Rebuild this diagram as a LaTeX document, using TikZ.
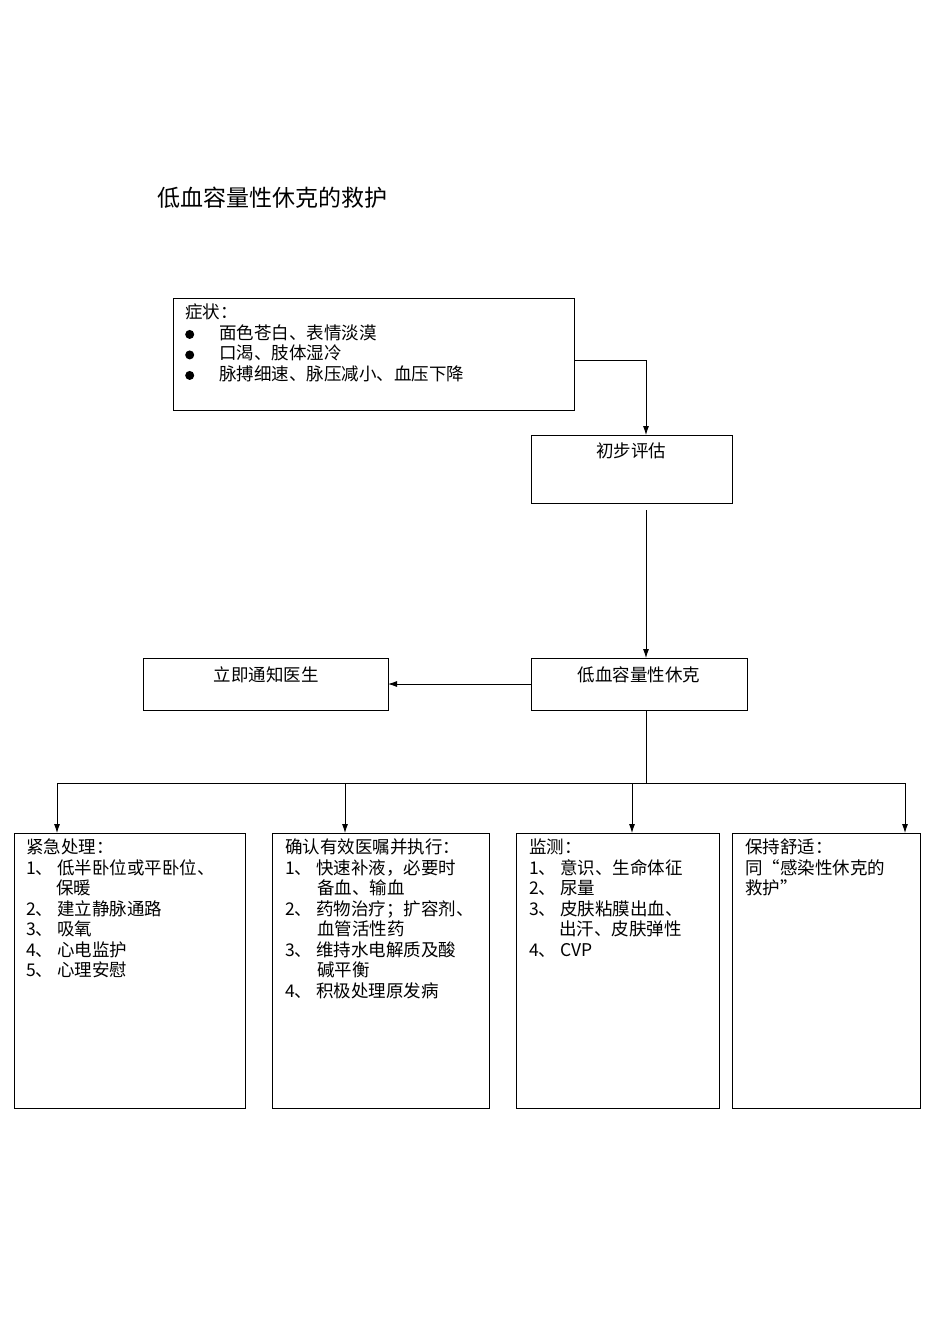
\documentclass[tikz,border=0pt]{standalone}
\usepackage{fontspec}
\setmainfont{Liberation Serif}
\newfontfamily\cjk{Noto Sans CJK SC}
\usetikzlibrary{arrows.meta}
\newcommand{\bul}{\makebox[34pt][l]{\tikz[baseline=-5pt]\fill (4pt,0) circle (4.5pt);}}
\begin{document}
\begin{tikzpicture}[x=1pt,y=-1pt,
  box/.style={draw,line width=0.8pt},
  txt/.style={anchor=north west,inner sep=0pt,align=left,font=\cjk\fontsize{17.5}{20.5}\selectfont},
  arr/.style={-{Latex[length=9pt,width=6pt]},line width=0.8pt},
  ln/.style={line width=0.8pt}]
\useasboundingbox (0,0) rectangle (950,1344);
\node[anchor=west,inner sep=0pt,font=\cjk\fontsize{23}{26}\selectfont] (title) at (157,198) {低血容量性休克的救护};
\draw[box] (173,298) rectangle (574,410);
\node[txt] (st) at (185,304) {症状：\\
\bul 面色苍白、表情淡漠\\
\bul 口渴、肢体湿冷\\
\bul 脉搏细速、脉压减小、血压下降};
\coordinate (sR) at (574,360);
\draw[box] (531,435) rectangle (732,503);
\coordinate (pT) at (646,435);
\node[font=\cjk\fontsize{17.5}{20}\selectfont,inner sep=0pt] (p) at (631,451) {初步评估};
\coordinate (pB) at (646,510);
\draw[arr] (sR) -| (pT);
\draw[box] (531,658) rectangle (747,710);
\coordinate (hT) at (646,658);
\node[font=\cjk\fontsize{17.5}{20}\selectfont,inner sep=0pt] (h) at (639,675) {低血容量性休克};
\draw[arr] (pB) -- (hT);
\draw[box] (143,658) rectangle (388,710);
\node[font=\cjk\fontsize{17.5}{20}\selectfont,inner sep=0pt] (d) at (266,675) {立即通知医生};
\coordinate (hL) at (531,684);
\coordinate (dR) at (388,684);
\draw[arr] (hL) -- (dR);
\coordinate (hB) at (646,710);
\coordinate (j) at (646,783);
\draw[ln] (hB) -- (j);
\draw[ln] (57,783) -- (905,783);
\foreach \x/\n in {57/a,345/b,632/c,905/e}{
  \coordinate (t\n) at (\x,783);
  \coordinate (b\n) at (\x,833);
  \draw[arr] (t\n) -- (b\n);
}
\draw[box] (14,833) rectangle (245,1108);
\draw[box] (272,833) rectangle (489,1108);
\draw[box] (516,833) rectangle (719,1108);
\draw[box] (732,833) rectangle (920,1108);
\node[txt,text width=215pt] (A) at (26,839) {紧急处理：\\
1、\hspace{4pt}低半卧位或平卧位、\\
\hspace{30pt}保暖\\
2、\hspace{4pt}建立静脉通路\\
3、\hspace{4pt}吸氧\\
4、\hspace{4pt}心电监护\\
5、\hspace{4pt}心理安慰};
\node[txt,text width=205pt] (B) at (285,839) {确认有效医嘱并执行：\\
1、\hspace{4pt}快速补液，必要时\\
\hspace{32pt}备血、输血\\
2、\hspace{4pt}药物治疗；扩容剂、\\
\hspace{32pt}血管活性药\\
3、\hspace{4pt}维持水电解质及酸\\
\hspace{32pt}碱平衡\\
4、\hspace{4pt}积极处理原发病};
\node[txt,text width=195pt] (C) at (529,839) {监测：\\
1、\hspace{4pt}意识、生命体征\\
2、\hspace{4pt}尿量\\
3、\hspace{4pt}皮肤粘膜出血、\\
\hspace{30pt}出汗、皮肤弹性\\
4、\hspace{4pt}CVP};
\node[txt,text width=180pt] (E) at (745,839) {保持舒适：\\
同“感染性休克的\\
救护”};
\end{tikzpicture}
\end{document}
